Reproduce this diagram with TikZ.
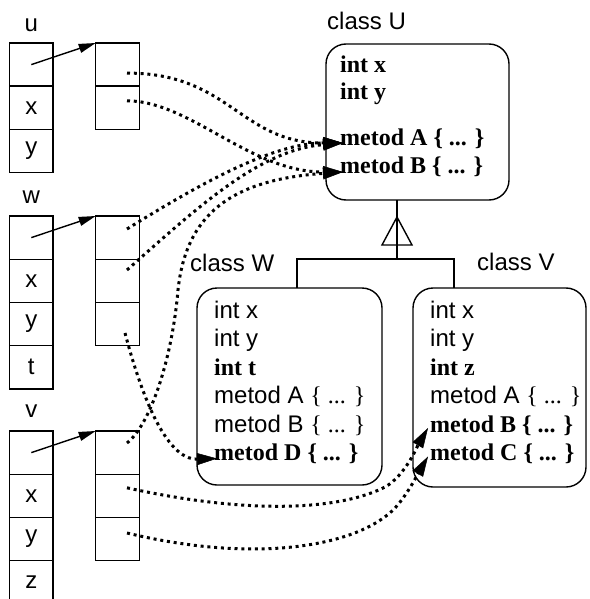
\documentclass[tikz,border=0pt]{standalone}
\usepackage{fontspec}
\setmainfont{Liberation Sans}
\newfontfamily\tms{Liberation Serif}
\usetikzlibrary{arrows.meta,positioning,calc}
\newcommand{\brc}{{\tms\{ ... \}}}

\begin{document}
\begin{tikzpicture}[x=1pt,y=-1pt,
  font=\fontsize{24}{28}\selectfont,
  cell/.style={draw,line width=1.4pt,minimum width=43.5pt,minimum height=43.2pt,inner sep=0pt,outer sep=0pt},
  classbox/.style={draw,line width=1.4pt,rounded corners=20pt,inner sep=0pt,outer sep=0pt},
  member/.style={anchor=base west,inner sep=0pt},
  ptr/.style={line width=1.4pt,-{Triangle[length=17pt,width=9pt]}},
  vlink/.style={line width=3pt,dash pattern=on 3pt off 3.8pt,-{Triangle[length=20pt,width=12pt,line width=0.5pt]}}]
  \useasboundingbox (0,0) rectangle (589,599);

  \node[cell] (u1) at (31.3,64.6) {};
  \node[cell,below=0pt of u1] (u2) {x};
  \node[cell,below=0pt of u2] (u3) {y};
  \node[above=11pt of u1,inner sep=0pt] (ulbl) {u};
  \node[cell] (uv1) at (117.5,64.6) {};
  \node[cell,below=0pt of uv1] (uv2) {};

  \node[cell] (w1) at (31.3,237.6) {};
  \node[cell,below=0pt of w1] (w2) {x};
  \node[cell,below=0pt of w2] (w3) {y};
  \node[cell,below=0pt of w3] (w4) {t};
  \node[above=12pt of w1,inner sep=0pt] (wlbl) {w};
  \node[cell] (wv1) at (117.5,237.6) {};
  \node[cell,below=0pt of wv1] (wv2) {};
  \node[cell,below=0pt of wv2] (wv3) {};

  \node[cell] (v1) at (31.3,452.6) {};
  \node[cell,below=0pt of v1] (v2) {x};
  \node[cell,below=0pt of v2] (v3) {y};
  \node[cell,below=0pt of v3] (v4) {z};
  \node[above=13pt of v1,inner sep=0pt] (vlbl) {v};
  \node[cell] (vv1) at (117.5,452.6) {};
  \node[cell,below=0pt of vv1] (vv2) {};
  \node[cell,below=0pt of vv2] (vv3) {};

  \node[classbox,minimum width=183pt,minimum height=156pt] (U) at (417.5,122) {};
  \node[anchor=base west,inner sep=0pt] (Ulbl) at (327,30) {class U};
  \node[member] (Ux) at (340,73) {\tms\bfseries int x};
  \node[member] (Uy) at (340,100) {\tms\bfseries int y};
  \node[member] (UA) at (340,146) {\tms\bfseries metod A \{ ... \}};
  \node[member] (UB) at (340,173) {\tms\bfseries metod B \{ ... \}};

  \node[classbox,minimum width=185pt,minimum height=197pt] (W) at (289.5,386.5) {};
  \node[anchor=base west,inner sep=0pt] (Wlbl) at (190,271) {class W};
  \node[member] (Wx) at (214,318) {int x};
  \node[member] (Wy) at (214,346.5) {int y};
  \node[member] (Wt) at (214,375) {\tms\bfseries int t};
  \node[member] (WA) at (214,403.5) {metod A \brc};
  \node[member] (WB) at (214,432) {metod B \brc};
  \node[member] (WD) at (214,460.5) {\tms\bfseries metod D \{ ... \}};

  \node[classbox,minimum width=173pt,minimum height=199pt] (V) at (499.5,387.5) {};
  \node[anchor=base west,inner sep=0pt] (Vlbl) at (477,270) {class V};
  \node[member] (Vx) at (430,318) {int x};
  \node[member] (Vy) at (430,346.5) {int y};
  \node[member] (Vz) at (430,375) {\tms\bfseries int z};
  \node[member] (VA) at (430,403.5) {metod A \brc};
  \node[member] (VB) at (430,432) {\tms\bfseries metod B \{ ... \}};
  \node[member] (VC) at (430,460.5) {\tms\bfseries metod C \{ ... \}};

  \coordinate (hub) at (397,259);
  \draw[line width=1.4pt,fill=white] (397,217) -- (412,245) -- (382,245) -- cycle;
  \draw[line width=1.4pt] (U.south -| hub) -- (hub);
  \draw[line width=1.4pt] ($(W.north)+(7.5,0)$) |- (hub) -| ($(V.north)+(-45.5,0)$);

  \draw[ptr] (u1.center) -- (uv1.north west);
  \draw[ptr] (w1.center) -- (wv1.north west);
  \draw[ptr] (v1.center) -- (vv1.north west);

  \draw[vlink] ([shift={(9.5,8.5)}]uv1.center) .. controls (230,73) and (240,143) .. ([shift={(3,-3)}]UA.base west);
  \draw[vlink] ([shift={(9.5,-7)}]uv2.center) .. controls (190,101) and (250,172) .. ([shift={(3,-1)}]UB.base west);
  \draw[vlink] ([shift={(9.5,-8.6)}]wv1.center) .. controls (190,190) and (270,143) .. ([shift={(3,-3)}]UA.base west);
  \draw[vlink] ([shift={(9.5,-10.8)}]wv2.center) .. controls (200,205) and (260,150) .. ([shift={(3,-3)}]UA.base west);
  \draw[vlink] ([shift={(7.5,9)}]wv3.center) .. controls (140,390) and (165,460) .. ([shift={(3,-2)}]WD.base west);
  \draw[vlink] ([shift={(9.5,-9.6)}]vv1.center) .. controls (150,425) and (172,360) .. (178,290)
    .. controls (186,215) and (230,180) .. ([shift={(3,-1)}]UB.base west);
  \draw[vlink] ([shift={(9.5,-8)}]vv2.center) .. controls (250,515) and (340,510) .. (385,487)
    .. controls (405,476) and (418,445) .. ([shift={(-2,-4)}]VB.base west);
  \draw[vlink] ([shift={(9.5,-6)}]vv3.center) .. controls (260,565) and (360,545) .. (395,508)
    .. controls (408,494) and (420,470) .. ([shift={(-2,-4)}]VC.base west);
\end{tikzpicture}
\end{document}
